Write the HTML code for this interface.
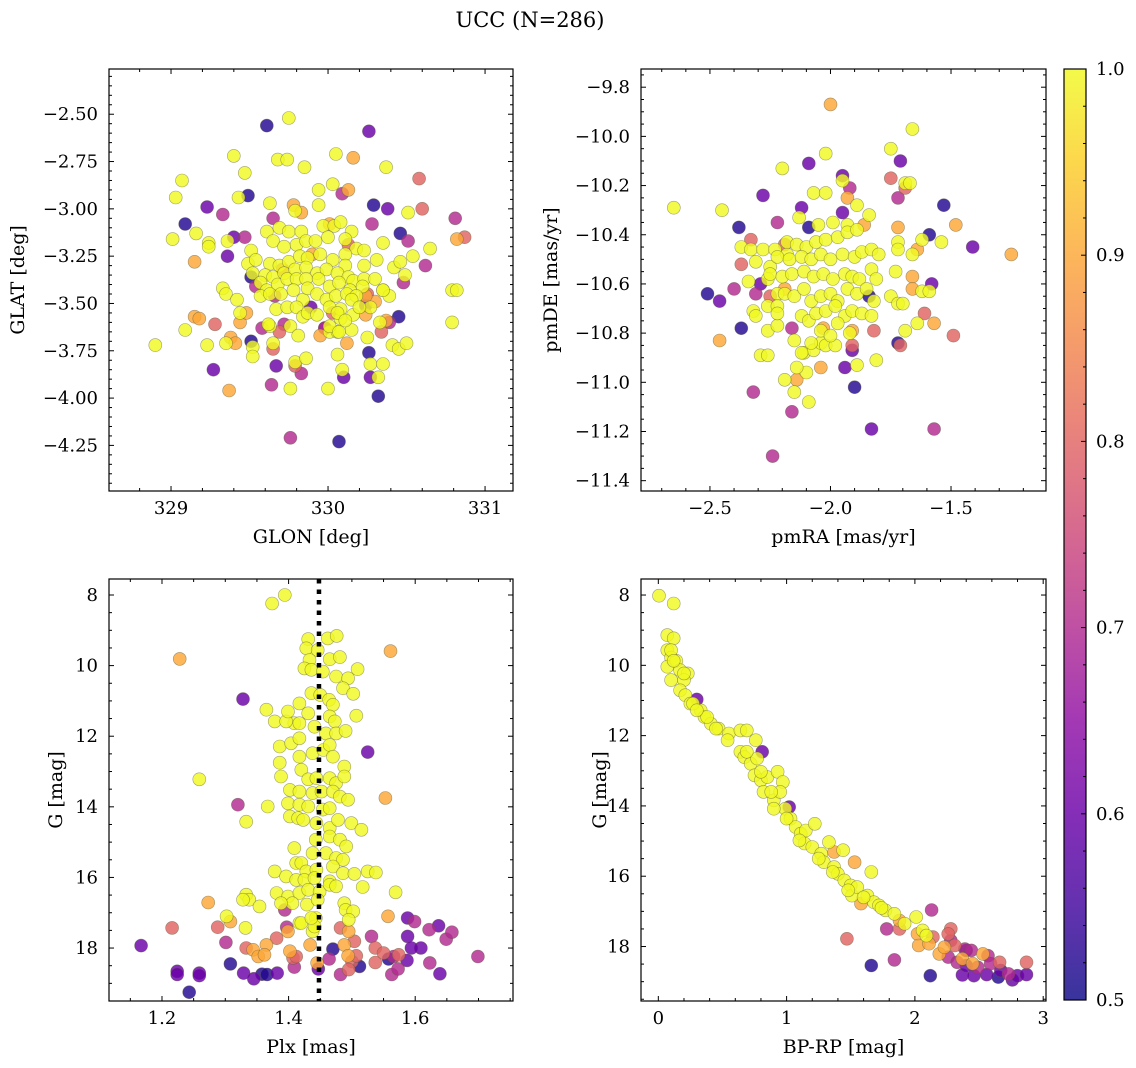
<!DOCTYPE html>
<html><head><meta charset="utf-8">
<style>
html,body{margin:0;padding:0;background:#fff;}
svg{display:block;font-family:"DejaVu Serif","Liberation Serif",serif;}
</style></head>
<body>
<svg id="fig" width="1136" height="1068" viewBox="0 0 1136 1068" xmlns="http://www.w3.org/2000/svg">
<text x="530" y="27" text-anchor="middle" font-size="21">UCC (N=286)</text>
</svg>
<script>
// ---- data: [x, y, membership probability] ----
const skyPoints = [
[329.61,-2.56,.52],[329.75,-2.52,1],[330.26,-2.59,.6],[329.40,-2.72,1],[329.68,-2.74,1],[329.74,-2.74,1],[329.85,-2.78,1],[330.05,-2.71,1],[330.16,-2.73,.9],[330.37,-2.78,1],[330.58,-2.84,.8],[329.07,-2.85,1],[329.47,-2.81,1],[329.03,-2.94,1],[329.43,-2.94,1],[329.49,-2.93,.52],[329.94,-2.90,1],[330.03,-2.87,1],[330.09,-2.92,.7],[330.13,-2.90,.9],[329.23,-2.99,.6],[329.33,-3.03,.7],[329.63,-2.97,1],[329.78,-2.98,.9],[329.79,-3.01,1],[329.83,-3.02,.9],[329.94,-2.98,1],[330.29,-2.98,.52],[330.38,-3.00,.6],[330.51,-3.02,1],[330.60,-3.00,.8],[330.81,-3.05,.7],[329.09,-3.08,.52],[329.65,-3.05,.7],[330.28,-3.08,.7],[329.16,-3.13,1],[329.01,-3.16,1],[329.40,-3.15,.6],[329.47,-3.15,.7],[330.46,-3.13,.52],[330.51,-3.17,.7],[330.82,-3.16,.9],[330.87,-3.15,.8],[329.24,-3.18,1],[329.24,-3.20,1],[329.36,-3.17,1],[329.36,-3.25,.6],[329.15,-3.28,.9],[330.65,-3.21,1],[330.54,-3.25,1],[330.62,-3.30,.7],[330.35,-3.18,1],[330.79,-3.43,1],[330.82,-3.43,1],[330.48,-3.39,.7],[330.42,-3.31,1],[330.46,-3.28,1],[330.49,-3.35,1],[330.79,-3.60,1],[329.33,-3.42,1],[329.35,-3.45,1],[329.15,-3.57,.9],[329.18,-3.58,.9],[329.09,-3.64,1],[329.28,-3.61,.8],[329.42,-3.48,1],[329.44,-3.55,1],[329.44,-3.60,.9],[329.48,-3.55,.9],[328.90,-3.72,1],[329.23,-3.72,1],[329.35,-3.71,1],[329.38,-3.68,.9],[329.41,-3.71,.9],[329.51,-3.70,.52],[329.52,-3.73,1],[329.52,-3.78,1],[329.58,-3.63,.7],[329.63,-3.62,1],[329.65,-3.71,1],[329.65,-3.74,.8],[329.69,-3.65,.8],[329.27,-3.85,.6],[329.37,-3.96,.9],[329.64,-3.93,.7],[329.67,-3.83,.6],[329.76,-3.95,1],[329.79,-3.81,1],[329.79,-3.83,.8],[329.83,-3.87,.7],[329.86,-3.79,1],[330.00,-3.95,1],[330.06,-3.77,1],[330.09,-3.85,1],[330.10,-3.89,.6],[330.26,-3.76,.52],[330.27,-3.82,1],[330.35,-3.82,1],[330.27,-3.89,.6],[330.32,-3.89,1],[330.32,-3.99,.52],[329.76,-4.21,.7],[330.07,-4.23,.52],[330.12,-3.71,.9],[330.25,-3.68,1],[330.34,-3.65,.8],[330.37,-3.59,.9],[330.39,-3.60,.7],[330.45,-3.57,.52],[330.33,-3.60,1],[330.41,-3.72,1],[330.45,-3.74,1],[330.50,-3.71,1],
[330.24,-3.51,.6],[330.27,-3.52,1],[330.30,-3.49,.9],[330.24,-3.56,.9],[330.35,-3.43,1],[330.39,-3.46,1],[330.25,-3.45,.8],[329.95,-3.67,.9],[329.98,-3.63,.7],[330.01,-3.65,1],[330.06,-3.65,1],[330.03,-3.55,.8],[330.08,-3.58,1],[330.15,-3.64,1],[330.08,-3.53,1],[330.16,-3.56,1],
[329.61,-3.12,1],[329.69,-3.10,1],[329.75,-3.12,1],[329.83,-3.12,1],[329.97,-3.09,1],[330.04,-3.09,1],[330.08,-3.07,1],[330.15,-3.12,1],[329.65,-3.17,1],[329.72,-3.20,1],[329.80,-3.19,1],[329.86,-3.17,1],[329.92,-3.17,1],[330.00,-3.15,1],[330.11,-3.16,1],[330.18,-3.21,1],[330.23,-3.22,1],[330.31,-3.27,1],[329.51,-3.22,1],[329.49,-3.29,1],[329.54,-3.27,1],[329.63,-3.29,1],[329.69,-3.30,1],[329.75,-3.28,1],[329.82,-3.25,1],[329.87,-3.26,1],[329.95,-3.24,1],[330.03,-3.27,1],[330.11,-3.24,1],[330.11,-3.30,1],[330.23,-3.30,1],[329.52,-3.34,1],[329.60,-3.35,1],[329.65,-3.36,1],[329.72,-3.34,1],[329.79,-3.32,1],[329.86,-3.31,1],[329.93,-3.34,1],[329.99,-3.32,1],[330.06,-3.34,1],[330.13,-3.36,1],[330.16,-3.38,1],[330.23,-3.37,1],[330.30,-3.37,1],[329.57,-3.39,1],[329.61,-3.43,1],[329.68,-3.40,1],[329.74,-3.37,1],[329.80,-3.37,1],[329.86,-3.37,1],[329.94,-3.37,1],[330.01,-3.41,1],[330.07,-3.39,1],[330.14,-3.43,1],[330.22,-3.41,1],[330.35,-3.43,1],[329.57,-3.46,1],[329.63,-3.45,1],[329.70,-3.45,1],[329.78,-3.43,1],[329.84,-3.48,1],[329.87,-3.42,1],[329.93,-3.45,1],[329.99,-3.48,1],[330.05,-3.46,1],[330.12,-3.45,1],[330.18,-3.46,1],[329.67,-3.53,1],[329.74,-3.52,1],[329.80,-3.52,1],[329.84,-3.57,1],[329.87,-3.55,1],[329.93,-3.56,1],[330.01,-3.52,1],[330.06,-3.55,1],[330.15,-3.48,1],[330.20,-3.52,1],[329.62,-3.61,1],[329.76,-3.62,1],[329.81,-3.67,1],[330.01,-3.62,1],[330.07,-3.65,1],[330.11,-3.59,1],
[330.13,-3.19,.8],[329.71,-3.32,.8],[329.54,-3.41,.7],[329.66,-3.46,.7],[329.89,-3.52,.6],[330.24,-3.46,.9],[329.51,-3.36,.52],[329.90,-3.24,.9],[330.01,-3.08,.9],[329.72,-3.61,.7],[329.98,-3.63,.6]
];
const pmPoints = [
[-2.00,-9.87,.9],[-1.66,-9.97,1],[-1.75,-10.05,1],[-1.71,-10.10,.6],[-2.02,-10.07,1],[-2.09,-10.11,.6],[-2.20,-10.13,1],[-1.75,-10.17,.8],[-1.95,-10.16,.6],[-1.92,-10.21,.7],[-1.95,-10.18,1],[-1.72,-10.25,.7],[-1.69,-10.19,1],[-1.67,-10.19,1],[-1.69,-10.21,.8],[-2.07,-10.23,1],[-2.02,-10.23,1],[-2.28,-10.24,.6],[-1.93,-10.25,.9],[-1.89,-10.28,1],[-2.65,-10.29,1],[-2.45,-10.30,1],[-2.12,-10.29,.6],[-1.95,-10.31,.6],[-2.13,-10.33,1],[-1.84,-10.32,1],[-1.53,-10.28,.52],[-2.22,-10.35,.7],[-1.48,-10.36,.9],[-2.38,-10.37,.52],[-2.09,-10.37,.52],[-2.05,-10.36,1],[-1.99,-10.35,1],[-1.93,-10.36,1],[-1.86,-10.36,.9],[-1.72,-10.37,.9],[-1.59,-10.40,.52],[-1.62,-10.42,1],[-1.54,-10.43,1],[-1.41,-10.45,.6],[-1.25,-10.48,.9],[-2.33,-10.42,.8],[-2.37,-10.45,1],[-2.33,-10.46,1],[-2.28,-10.46,1],[-2.23,-10.46,1],[-2.19,-10.44,.8],[-2.18,-10.48,1],[-1.72,-10.43,1],[-1.72,-10.46,1],[-1.64,-10.46,.9],[-1.66,-10.48,1],
[-2.37,-10.52,.8],[-2.31,-10.51,1],[-2.25,-10.53,1],[-2.34,-10.59,1],[-2.29,-10.60,.6],[-2.26,-10.58,1],[-2.40,-10.62,.7],[-2.31,-10.64,.7],[-2.51,-10.64,.52],[-2.46,-10.67,.6],[-2.25,-10.65,.8],[-2.26,-10.69,1],[-2.22,-10.64,1],[-2.32,-10.71,1],[-2.31,-10.73,1],[-2.46,-10.83,.9],[-2.37,-10.78,.52],[-2.26,-10.79,1],[-2.22,-10.77,1],[-2.29,-10.89,1],[-2.16,-10.78,.7],[-2.19,-10.62,.9],
[-1.66,-10.57,.9],[-1.66,-10.62,.9],[-1.62,-10.63,1],[-1.59,-10.63,1],[-1.58,-10.60,.6],[-1.61,-10.72,.8],[-1.64,-10.76,1],[-1.57,-10.76,.9],[-1.49,-10.81,.8],[-1.69,-10.79,1],[-1.72,-10.84,.52],[-1.71,-10.85,.8],[-1.73,-10.55,1],[-1.75,-10.65,1],[-1.72,-10.68,1],[-1.70,-10.68,1],[-1.82,-10.79,.8],[-1.91,-10.79,.9],[-1.91,-10.85,.8],[-1.91,-10.87,.6],[-1.89,-10.93,1],[-1.81,-10.91,1],[-1.84,-10.65,.52],
[-1.94,-10.94,.6],[-1.90,-11.02,.52],[-2.16,-11.12,.7],[-2.32,-11.04,.7],[-2.19,-10.99,1],[-2.14,-10.99,.9],[-2.15,-11.04,1],[-2.09,-11.08,1],[-2.04,-10.94,.9],[-2.10,-10.96,1],[-2.26,-10.89,1],[-2.14,-10.94,1],[-2.11,-10.88,1],[-2.07,-10.87,1],[-2.04,-10.84,1],[-2.02,-10.85,1],[-1.98,-10.85,1],[-1.83,-11.19,.6],[-1.57,-11.19,.7],[-2.24,-11.30,.7],[-2.03,-10.78,.9],
[-2.18,-10.43,1],[-2.14,-10.44,1],[-2.10,-10.45,1],[-2.06,-10.43,1],[-2.02,-10.42,1],[-1.97,-10.41,1],[-1.93,-10.39,1],[-1.89,-10.38,1],[-2.22,-10.49,1],[-2.17,-10.50,1],[-2.12,-10.49,1],[-2.08,-10.50,1],[-2.04,-10.48,1],[-2.00,-10.50,1],[-1.95,-10.48,1],[-1.90,-10.49,1],[-1.87,-10.47,1],[-1.83,-10.46,1],[-1.80,-10.48,1],[-2.25,-10.56,1],[-2.20,-10.57,1],[-2.16,-10.56,1],[-2.11,-10.55,1],[-2.07,-10.57,1],[-2.03,-10.56,1],[-1.99,-10.58,1],[-1.94,-10.56,1],[-1.91,-10.57,1],[-1.88,-10.58,1],[-1.83,-10.54,1],[-1.81,-10.58,1],[-2.19,-10.64,1],[-2.15,-10.65,1],[-2.11,-10.62,1],[-2.08,-10.67,1],[-2.04,-10.65,1],[-2.00,-10.64,1],[-1.97,-10.67,1],[-1.93,-10.62,1],[-1.89,-10.64,1],[-1.85,-10.62,1],[-1.82,-10.67,1],[-2.22,-10.69,1],[-2.12,-10.73,1],[-2.09,-10.75,1],[-2.06,-10.72,1],[-2.02,-10.71,1],[-1.98,-10.69,1],[-1.94,-10.73,1],[-1.91,-10.71,1],[-1.87,-10.72,1],[-1.83,-10.73,1],[-2.22,-10.72,1],[-2.15,-10.83,1],[-2.12,-10.88,1],[-2.08,-10.84,1],[-2.04,-10.79,1],[-2.00,-10.81,1],[-1.97,-10.76,1],[-1.92,-10.80,1]
];
const plxPoints = [
[1.374,8.24,1],[1.394,8.00,1],[1.228,9.81,.9],[1.561,9.59,.9],
[1.431,9.25,1],[1.428,9.51,1],[1.462,9.23,1],[1.476,9.16,1],[1.446,9.56,1],[1.433,9.84,1],[1.465,9.82,1],[1.481,9.76,1],[1.425,10.08,1],[1.436,10.12,1],[1.454,10.17,1],[1.475,10.31,1],[1.494,10.36,1],[1.509,10.10,1],[1.486,10.64,1],[1.502,10.80,1],[1.436,10.78,1],[1.450,10.83,1],[1.464,10.97,1],[1.470,11.11,1],[1.417,11.07,1],[1.431,11.35,1],[1.409,11.63,1],[1.365,11.25,1],[1.378,11.58,1],[1.396,11.58,1],[1.399,11.30,1],[1.417,11.63,1],[1.441,11.73,1],[1.465,11.44,1],[1.473,11.58,1],[1.459,11.92,1],[1.475,11.92,1],[1.490,11.85,1],[1.507,11.42,1],[1.386,12.29,1],[1.404,12.20,1],[1.417,12.06,1],[1.438,12.48,1],[1.455,12.39,1],[1.465,12.25,1],[1.470,12.58,1],[1.488,12.86,1],[1.386,12.75,1],[1.388,13.14,1],[1.417,12.58,1],[1.420,12.95,1],[1.431,13.22,1],[1.444,13.19,1],[1.465,13.19,1],[1.475,13.33,1],[1.488,13.14,1],[1.402,13.52,1],[1.417,13.57,1],[1.438,13.61,1],[1.452,13.57,1],[1.470,13.57,1],[1.481,13.71,1],[1.494,13.80,1],[1.399,13.90,1],[1.417,13.94,1],[1.431,13.99,1],[1.454,14.08,1],[1.465,14.04,1],[1.367,13.99,1],[1.402,14.27,1],[1.415,14.32,1],[1.423,14.37,1],[1.444,14.46,1],[1.465,14.60,1],[1.478,14.37,1],[1.499,14.46,1],[1.515,14.65,1],[1.443,14.93,1],[1.465,14.84,1],[1.481,14.93,1],[1.491,15.12,1],[1.409,15.17,1],[1.438,15.31,1],[1.459,15.31,1],[1.475,15.45,1],[1.486,15.50,1],[1.412,15.59,1],[1.420,15.59,1],[1.428,15.83,1],[1.444,15.78,1],[1.470,15.69,1],[1.378,15.83,1],[1.396,15.97,1],[1.412,16.07,1],[1.425,16.07,1],[1.441,16.02,1],[1.465,16.11,1],[1.486,15.88,1],[1.504,15.90,1],[1.525,15.83,1],[1.538,15.86,1],[1.381,16.44,1],[1.399,16.54,1],[1.417,16.44,1],[1.431,16.35,1],[1.449,16.40,1],[1.465,16.21,1],[1.475,16.25,1],[1.517,16.27,1],[1.569,16.42,1],[1.333,16.49,1],[1.338,16.63,1],[1.328,16.63,1],[1.354,16.82,1],[1.406,16.73,1],[1.429,16.77,1],[1.446,16.63,1],[1.488,16.73,1],[1.490,16.92,1],[1.502,16.96,1],[1.495,17.20,1],[1.417,17.29,1],[1.438,17.53,1],[1.443,17.15,1],[1.302,17.10,1],[1.332,17.43,1],[1.259,13.22,1],[1.333,14.42,1],[1.388,16.73,1],[1.441,17.39,1],[1.420,17.29,1],[1.436,17.15,1],
[1.328,10.95,.6],[1.320,13.94,.7],[1.525,12.45,.6],[1.553,13.75,.9],[1.273,16.71,.9],[1.308,17.25,.9],[1.216,17.43,.8],[1.288,17.41,.8],[1.301,17.84,.7],[1.394,16.92,.7],[1.397,17.41,.7],[1.399,17.53,.9],[1.381,17.72,.8],[1.333,18.00,.8],[1.344,18.05,.9],[1.352,18.24,.9],[1.365,17.91,.9],[1.362,18.19,.9],[1.402,18.09,.9],[1.407,18.28,.8],[1.412,18.24,.8],[1.167,17.93,.6],[1.224,18.66,.6],[1.224,18.75,.6],[1.259,18.71,.6],[1.259,18.78,.6],[1.243,19.25,.52],[1.308,18.45,.52],[1.329,18.71,.6],[1.345,18.87,.6],[1.358,18.74,.52],[1.366,18.75,.52],[1.382,18.71,.6],[1.409,18.54,.7],[1.445,18.42,.9],[1.447,18.59,.6],[1.434,17.91,.9],[1.464,18.31,.7],[1.470,18.03,.52],[1.482,17.43,.8],[1.488,17.91,.9],[1.495,17.53,.9],[1.504,17.81,.8],[1.494,18.22,.9],[1.500,18.38,.8],[1.507,18.22,.8],[1.512,18.52,.52],[1.495,18.61,.8],[1.482,18.75,.7],[1.531,17.67,.7],[1.537,18.00,.8],[1.537,18.41,.8],[1.550,18.14,.8],[1.558,18.31,.52],[1.566,18.24,.7],[1.574,18.19,.8],[1.563,18.75,.7],[1.573,18.59,.7],[1.588,17.15,.6],[1.599,17.25,.7],[1.588,17.67,.6],[1.609,18.00,.6],[1.594,18.00,.6],[1.587,18.35,.6],[1.622,17.48,.7],[1.637,17.37,.6],[1.649,17.75,.7],[1.658,17.55,.7],[1.623,18.42,.7],[1.639,18.73,.6],[1.699,18.24,.7],[1.557,17.10,.9]
];
const cmdPoints = [
[0.005,8.02,1],[0.12,8.24,1],[0.07,9.14,1],[0.12,9.23,1],[0.07,9.57,1],[0.10,9.78,1],[0.07,10.04,1],[0.14,9.87,1],[0.10,10.42,1],[0.17,10.14,1],[0.23,10.23,1],[0.20,10.42,1],[0.17,10.71,1],[0.21,10.85,1],[0.25,11.09,1],[0.33,11.28,1],[0.36,11.47,1],[0.41,11.66,1],[0.38,11.47,1],[0.47,11.80,1],[0.55,11.94,1],[0.54,12.13,1],[0.64,11.85,1],[0.69,11.85,1],[0.76,12.13,1],[0.64,12.46,1],[0.67,12.61,1],[0.72,12.80,1],[0.77,12.65,1],[0.75,13.13,1],[0.80,13.27,1],[0.85,13.18,1],[0.82,13.60,1],[0.90,13.84,1],[0.93,13.03,1],[0.97,13.32,1],[0.95,13.60,1],[0.99,14.08,1],[0.90,14.08,1],[1.03,14.36,1],[1.07,14.60,1],[1.11,14.79,1],[1.15,14.70,1],[1.14,15.07,1],[1.22,14.51,1],[1.20,15.17,1],[1.27,15.36,1],[1.33,15.03,1],[1.29,15.60,1],[1.37,15.74,1],[1.40,15.93,1],[1.44,15.26,1],[1.45,16.12,1],[1.50,16.26,1],[1.51,16.55,1],[1.55,16.31,1],[1.63,16.55,1],[1.66,15.88,1],[1.68,16.74,1],[1.72,16.83,1],[1.77,16.97,1],[1.84,17.07,1],[1.92,17.35,1],[2.01,17.16,1],[2.06,17.54,1],[2.09,17.69,1],[0.10,9.57,1],[0.12,9.87,1],[0.20,10.23,1],[0.27,11.09,1],[0.30,11.28,1],[0.45,11.80,1],[0.69,12.46,1],[0.80,13.03,1],[0.88,13.60,1],[1.00,14.36,1],[1.10,14.98,1],[1.25,15.50,1],[1.36,15.88,1],[1.48,16.40,1],[1.60,16.60,1],[1.74,16.90,1],
[1.88,17.26,.9],[2.02,17.64,.9],[2.03,17.97,.9],[2.11,17.92,.9],[2.19,18.21,.9],[2.23,18.02,.9],[2.37,18.35,.9],[2.45,18.49,.9],[2.53,18.21,.9],[1.58,16.78,.9],[1.37,15.31,.9],[1.53,15.60,.9],[2.28,17.50,.8],[2.26,17.64,.8],[2.31,17.97,.8],[2.14,17.73,.8],[2.66,18.45,.8],[2.87,18.45,.8],[1.88,17.50,.8],
[0.30,10.97,.6],[0.81,12.46,.6],[1.02,14.03,.6],[1.47,17.78,.8],[1.66,18.54,.52],[1.78,17.50,.7],[1.84,18.38,.7],[2.13,16.96,.7],[2.12,18.83,.52],[2.28,17.83,.7],[2.39,18.07,.7],[2.44,18.11,.7],[2.57,18.26,.7],[2.59,18.49,.7],[2.26,18.30,.7],[2.33,18.45,.7],[2.37,18.81,.6],[2.46,18.83,.6],[2.56,18.80,.6],[2.65,18.87,.52],[2.73,18.78,.7],[2.76,18.95,.6],[2.80,18.83,.6],[2.87,18.80,.6],[2.40,18.54,.6],[2.49,18.59,.7],[2.67,18.68,.6],[2.40,18.11,.52]
];
// ---- tick definitions ----
const skyXTicks = [329, 330, 331];
const skyYTicks = [-2.5, -2.75, -3.0, -3.25, -3.5, -3.75, -4.0, -4.25];
const pmXTicks = [-2.5, -2.0, -1.5];
const pmYTicks = [-9.8, -10.0, -10.2, -10.4, -10.6, -10.8, -11.0, -11.2, -11.4];
const plxXTicks = [1.2, 1.4, 1.6];
const magTicks = [8, 10, 12, 14, 16, 18];
const cmdXTicks = [0, 1, 2, 3];
const cbarTicks = [0.5, 0.6, 0.7, 0.8, 0.9, 1.0];
const plxReference = 1.448;

const NS = 'http://www.w3.org/2000/svg';
const svg = document.getElementById('fig');
function el(tag, attrs, parent){
  const e = document.createElementNS(NS, tag);
  for (const k in attrs) e.setAttribute(k, attrs[k]);
  (parent||svg).appendChild(e);
  return e;
}
const stops = ['#0d0887','#41049d','#6a00a8','#8f0da4','#b12a90','#cc4778','#e16462','#f2844b','#fca636','#fcce25','#f0f921'];
function hex(c){return [parseInt(c.slice(1,3),16),parseInt(c.slice(3,5),16),parseInt(c.slice(5,7),16)];}
function plasma(t){
  t=Math.max(0,Math.min(1,t)); const f=t*10, i=Math.min(9,Math.floor(f)), r=f-i;
  const a=hex(stops[i]), b=hex(stops[i+1]);
  return 'rgb('+a.map((v,k)=>Math.round(v+(b[k]-v)*r)).join(',')+')';
}
function probColor(p){ return plasma((p-0.5)/0.5); }
function fmt(v, d){ const s=Math.abs(v).toFixed(d); return (v<0?'\u2212':'')+s; }

const TICK_FS = 18, LABEL_FS = 19;
function panel(cfg){
  const {name,x0,x1,y0,y1,xmin,xmax,ymin,ymax,invertY,pts,xTicks,yTicks,xDec,yDec,xMinor,yMinor,xLabel,yLabel,yLabelX} = cfg;
  const sx = v => x0 + (v - xmin)/(xmax - xmin)*(x1 - x0);
  const sy = invertY ? (v => y0 + (v - ymin)/(ymax - ymin)*(y1 - y0)) : (v => y1 - (v - ymin)/(ymax - ymin)*(y1 - y0));
  const g = el('g', {});
  
  
  const clipId = name + '-clip';
  const cp = el('clipPath', {id: clipId}, g);
  el('rect', {x:x0, y:y0, width:x1-x0, height:y1-y0}, cp);
  const marks = el('g', {'clip-path':'url(#'+clipId+')'}, g);
  
  
  const sorted = pts.slice().sort((a,b)=>a[2]-b[2]);
  sorted.forEach(p => {
    const c = el('circle', {cx:sx(p[0]).toFixed(1), cy:sy(p[1]).toFixed(1), r:6.5, fill:probColor(p[2]), 'fill-opacity':0.82, stroke:'rgba(90,90,60,0.55)', 'stroke-width':0.6}, marks);
    
    
  });
  if (cfg.vline !== undefined){
    const l = el('line', {x1:sx(cfg.vline), x2:sx(cfg.vline), y1:y0, y2:y1, stroke:'#000', 'stroke-width':4.5, 'stroke-dasharray':'4.5 6'}, g);
    
    
  }
  const tk = el('g', {stroke:'#000', 'stroke-width':1}, g);
  const lo = Math.min(xmin,xmax), hi = Math.max(xmin,xmax);
  for (let v = Math.ceil(lo/xMinor-1e-6)*xMinor; v <= hi+1e-9; v += xMinor){
    const X = sx(v); const major = xTicks.some(t=>Math.abs(t-v)<1e-6); const L = major?5:3;
    el('line',{x1:X,x2:X,y1:y1,y2:y1-L},tk); el('line',{x1:X,x2:X,y1:y0,y2:y0+L},tk);
  }
  const ylo = Math.min(ymin,ymax), yhi = Math.max(ymin,ymax);
  for (let v = Math.ceil(ylo/yMinor-1e-6)*yMinor; v <= yhi+1e-9; v += yMinor){
    const Y = sy(v); const major = yTicks.some(t=>Math.abs(t-v)<1e-6); const L = major?5:3;
    el('line',{x1:x0,x2:x0+L,y1:Y,y2:Y},tk); el('line',{x1:x1,x2:x1-L,y1:Y,y2:Y},tk);
  }
  xTicks.forEach(v => {
    const t = el('text', {x:sx(v), y:y1+23, 'text-anchor':'middle', 'font-size':TICK_FS}, g);
    t.textContent = fmt(v, xDec);
    
    
  });
  yTicks.forEach(v => {
    const t = el('text', {x:x0-11, y:sy(v)+6, 'text-anchor':'end', 'font-size':TICK_FS}, g);
    t.textContent = fmt(v, yDec);
    
    
  });
  const fr = el('rect', {x:x0, y:y0, width:x1-x0, height:y1-y0, fill:'none', stroke:'#000', 'stroke-width':1.2}, g);
  
  
  const xl = el('text', {x:(x0+x1)/2, y:y1+52, 'text-anchor':'middle', 'font-size':LABEL_FS}, g);
  xl.textContent = xLabel;
  
  
  const ym = (y0+y1)/2;
  const yl = el('text', {x:yLabelX, y:ym, 'text-anchor':'middle', 'font-size':LABEL_FS, transform:'rotate(-90 '+yLabelX+' '+ym+')'}, g);
  yl.textContent = yLabel;
  
  
}

panel({name:'sky',x0:109,x1:513,y0:69,y1:491,xmin:328.605,xmax:331.178,ymin:-4.491,ymax:-2.261,pts:skyPoints,
  xTicks:skyXTicks,yTicks:skyYTicks,xDec:0,yDec:2,xMinor:0.2,yMinor:0.05,xLabel:'GLON [deg]',yLabel:'GLAT [deg]',yLabelX:24});
panel({name:'proper-motion',x0:641,x1:1046,y0:69,y1:491,xmin:-2.786,xmax:-1.106,ymin:-11.442,ymax:-9.726,pts:pmPoints,
  xTicks:pmXTicks,yTicks:pmYTicks,xDec:1,yDec:1,xMinor:0.1,yMinor:0.05,xLabel:'pmRA [mas/yr]',yLabel:'pmDE [mas/yr]',yLabelX:557});
panel({name:'parallax',x0:109,x1:513,y0:579,y1:1001,xmin:1.1163,xmax:1.7545,ymin:7.547,ymax:19.50,invertY:true,pts:plxPoints,
  xTicks:plxXTicks,yTicks:magTicks,xDec:1,yDec:0,xMinor:0.05,yMinor:0.5,xLabel:'Plx [mas]',yLabel:'G [mag]',yLabelX:62,vline:plxReference});
panel({name:'cmd',x0:641,x1:1046,y0:579,y1:1001,xmin:-0.135,xmax:3.022,ymin:7.544,ymax:19.55,invertY:true,pts:cmdPoints,
  xTicks:cmdXTicks,yTicks:magTicks,xDec:0,yDec:0,xMinor:0.2,yMinor:0.5,xLabel:'BP-RP [mag]',yLabel:'G [mag]',yLabelX:606});

// colorbar
const cb = el('g', {});


const defs = el('defs', {}, cb);
const grad = el('linearGradient', {id:'cbgrad', x1:0, y1:1, x2:0, y2:0}, defs);
for (let i=0;i<=20;i++){ el('stop', {offset:(i/20), 'stop-color':plasma(i/20)}, grad); }
const cx0=1064, cx1=1086, cy0=69, cy1=1000;
el('rect', {x:cx0, y:cy0, width:cx1-cx0, height:cy1-cy0, fill:'url(#cbgrad)', 'fill-opacity':0.82}, cb);
const cbs = v => cy1 - (v-0.5)/0.5*(cy1-cy0);
for (let i=0;i<=25;i++){
  const v = 0.5 + i*0.02; const Y = cbs(v);
  const major = cbarTicks.some(t=>Math.abs(t-v)<1e-6);
  el('line', {x1:cx1, x2:cx1-(major?5:3), y1:Y, y2:Y, stroke:'#000', 'stroke-width':1}, cb);
}
cbarTicks.forEach(v => {
  const t = el('text', {x:1096, y:cbs(v)+6, 'font-size':TICK_FS}, cb);
  t.textContent = v.toFixed(1);
  
  
});
el('rect', {x:cx0, y:cy0, width:cx1-cx0, height:cy1-cy0, fill:'none', stroke:'#000', 'stroke-width':1.2}, cb);
</script>
</body></html>
